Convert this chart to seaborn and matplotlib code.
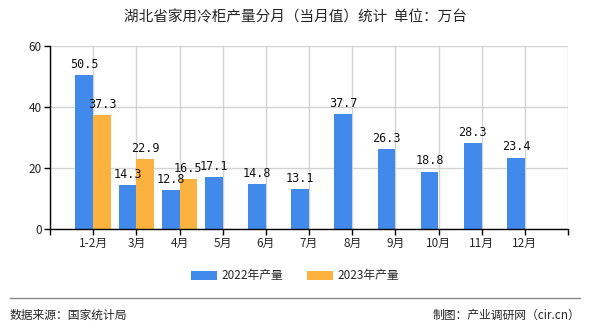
import matplotlib
matplotlib.use("Agg")
import matplotlib.pyplot as plt
import seaborn as sns
import pandas as pd
from matplotlib.patches import Patch
from matplotlib.lines import Line2D

months = ["1-2月", "3月", "4月", "5月", "6月", "7月", "8月", "9月", "10月", "11月", "12月"]
v2022 = [50.5, 14.3, 12.8, 17.1, 14.8, 13.1, 37.7, 26.3, 18.8, 28.3, 23.4]
months_2023 = ["1-2月", "3月", "4月"]
v2023 = [37.3, 22.9, 16.5]
series = ["2022年产量", "2023年产量"]
colors = ["#418AEB", "#FBB23E"]
yticks = [0, 20, 40, 60]

title = "湖北省家用冷柜产量分月（当月值）统计  单位：万台"
source = "数据来源：国家统计局"
credit = "制图：产业调研网（cir.cn）"

rows = [(m, series[0], v) for m, v in zip(months, v2022)] + \
       [(m, series[1], v) for m, v in zip(months_2023, v2023)]
df = pd.DataFrame(rows, columns=["month", "series", "value"])

sns.set_theme(style="white")
plt.rcParams["font.family"] = ["Noto Sans CJK SC", "DejaVu Sans"]

fig = plt.figure(figsize=(5.9, 3.3), dpi=100)
ax = fig.add_axes([50 / 590, 101 / 330, 518 / 590, 183 / 330])

sns.barplot(data=df, x="month", y="value", hue="series", order=months,
            hue_order=series, palette=colors, width=0.82, dodge=True,
            saturation=1, ax=ax, legend=False, errorbar=None, linewidth=0)

for c in ax.containers:
    ax.bar_label(c, fmt="%.1f", padding=3, fontsize=8.5, color="#111111",
                 family=["DejaVu Sans Mono"])

ax.set_xlim(-1, 11)
ax.set_ylim(0, 60)
ax.set_yticks(yticks)
ax.set_yticklabels([str(t) for t in yticks], fontsize=8.5)
ax.set_xticks(range(-1, 12))
ax.set_xticklabels([""] + months + [""], fontsize=8.5)
ax.set_xlabel("")
ax.set_ylabel("")

ax.grid(True, color="#D3D3D3", linewidth=1)
ax.set_axisbelow(True)
for s in ["top", "right"]:
    ax.spines[s].set_visible(False)
for s in ["left", "bottom"]:
    ax.spines[s].set_color("black")
    ax.spines[s].set_linewidth(1)
ax.tick_params(axis="both", which="both", length=4, width=1, color="black",
               direction="out", bottom=True, left=True, pad=2)

fig.text(0.5, 1 - 17 / 330, title, ha="center", va="center", fontsize=10.5)

handles = [Patch(facecolor=colors[0], linewidth=0), Patch(facecolor=colors[1], linewidth=0)]
fig.legend(handles, series, loc="center", bbox_to_anchor=(0.5, 1 - 276 / 330),
           ncol=2, frameon=False, fontsize=8.5, handlelength=2.2,
           handleheight=0.8, columnspacing=2.0, handletextpad=0.4)

fig.add_artist(Line2D([10 / 590, 580 / 590], [1 - 298 / 330, 1 - 298 / 330],
                      color="#888888", linewidth=1))
fig.text(10 / 590, 1 - 315 / 330, source, ha="left", va="center", fontsize=8.5)
fig.text(580 / 590, 1 - 315 / 330, credit, ha="right", va="center", fontsize=8.5)

fig.savefig("out.png", dpi=100)
